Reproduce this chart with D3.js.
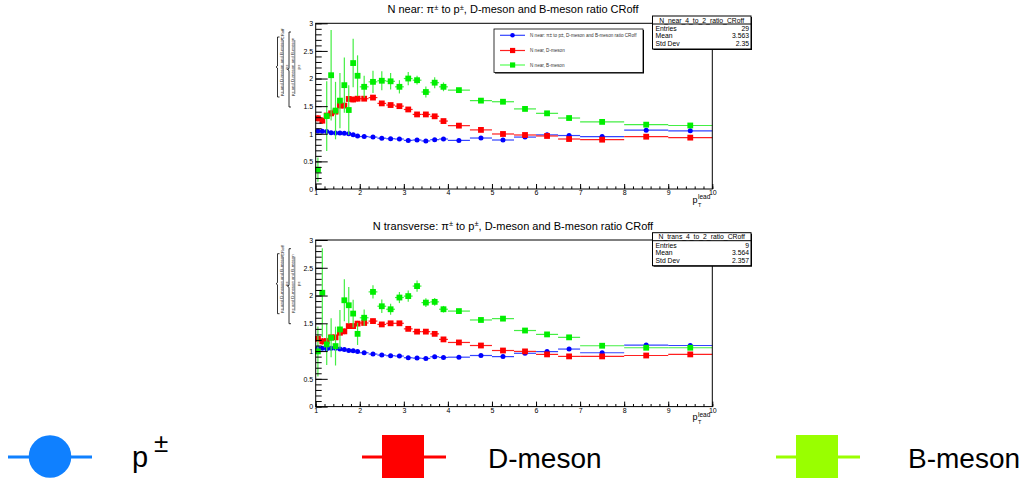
<!DOCTYPE html>
<html><head><meta charset="utf-8">
<script src="https://cdn.jsdelivr.net/npm/d3@7"></script>
<style>body{margin:0;background:#fff}svg{display:block;font-family:"Liberation Sans",Arial,sans-serif}</style>
</head><body><svg id="c" width="1027" height="480"></svg>
<script>
// ---- data ----
const binEdges = [1,1.1,1.2,1.3,1.4,1.5,1.6,1.7,1.8,1.9,2.0,2.2,2.4,2.6,2.8,3.0,3.2,3.4,3.6,3.8,4.0,4.5,5.0,5.5,6.0,6.5,7.0,8,9,10];
const xTicks = [1,2,3,4,5,6,7,8,9,10];
const yTicks = [0,0.5,1,1.5,2,2.5,3];

const nearPi    = [1.05,1.044,1.04,1.02,1.014,1.014,1.01,1.0,0.98,0.96, 0.95,0.94,0.92,0.91,0.905,0.88,0.887,0.87,0.893,0.905, 0.88,0.923,0.887,0.94,0.98,0.968,0.95,1.065,1.053];
const nearPiErr = [0.02,0.02,0.02,0.02,0.02,0.02,0.02,0.02,0.02,0.02, 0.015,0.015,0.015,0.015,0.015,0.015,0.015,0.015,0.015,0.015, 0.01,0.01,0.01,0.01,0.01,0.01,0.01,0.01,0.01];
const nearD     = [1.28,1.237,1.33,1.37,1.40,1.51,1.51,1.63,1.62,1.635, 1.635,1.655,1.55,1.52,1.50,1.44,1.35,1.35,1.316,1.23, 1.147,1.07,0.996,0.978,0.96,0.905,0.893,0.947,0.93];
const nearDErr  = [0.06,0.06,0.06,0.06,0.05,0.05,0.05,0.05,0.05,0.05, 0.04,0.04,0.04,0.04,0.04,0.04,0.03,0.03,0.03,0.03, 0.02,0.02,0.02,0.02,0.02,0.02,0.02,0.02,0.02];
const nearB     = [0.35,null,1.32,2.06,1.42,1.60,1.88,1.43,2.28,2.05, 1.85,1.94,1.96,1.95,1.85,2.0,1.97,1.756,1.925,1.85, 1.79,1.60,1.58,1.45,1.37,1.285,1.215,1.165,1.15];
const nearBErr  = [0.22,0,0.63,0.82,0.52,0.5,0.5,0.45,0.44,0.37, 0.2,0.2,0.17,0.15,0.12,0.12,0.08,0.1,0.1,0.08, 0.03,0.03,0.02,0.02,0.02,0.02,0.01,0.01,0.01];

const transPi    = [1.05,1.05,1.04,1.05,1.05,1.036,1.03,1.01,1.006,0.994, 0.97,0.946,0.928,0.916,0.91,0.88,0.873,0.867,0.897,0.885, 0.89,0.92,0.90,0.96,0.99,1.036,0.97,1.108,1.10];
const transPiErr = [0.02,0.02,0.02,0.02,0.02,0.02,0.02,0.02,0.02,0.02, 0.015,0.015,0.015,0.015,0.015,0.015,0.015,0.015,0.015,0.015, 0.01,0.01,0.01,0.01,0.01,0.01,0.01,0.01,0.01];
const transD     = [1.22,1.175,1.18,1.247,1.247,1.33,1.355,1.45,1.45,1.494, 1.506,1.54,1.48,1.5,1.5,1.40,1.35,1.35,1.31,1.21, 1.155,1.10,1.01,0.994,0.94,0.904,0.904,0.92,0.94];
const transDErr  = [0.06,0.06,0.06,0.06,0.05,0.05,0.05,0.05,0.05,0.05, 0.04,0.04,0.04,0.04,0.04,0.04,0.03,0.03,0.03,0.03, 0.02,0.02,0.02,0.02,0.02,0.02,0.02,0.02,0.02];
const transB     = [0.994,2.05,1.12,1.24,1.09,1.39,1.915,1.825,1.675,1.31, 1.60,2.066,1.807,1.753,1.964,1.99,2.17,1.873,1.886,1.753, 1.72,1.56,1.584,1.37,1.30,1.247,1.096,1.06,1.06];
const transBErr  = [0.45,0.8,0.37,0.35,0.35,0.35,0.38,0.33,0.25,0.2, 0.15,0.12,0.12,0.1,0.1,0.1,0.1,0.08,0.07,0.06, 0.02,0.02,0.02,0.02,0.02,0.02,0.01,0.01,0.01];

const panelTitles = ["N near", "N transverse"];
const statNames = ["N_near_4_to_2_ratio_CRoff", "N_trans_4_to_2_ratio_CRoff"];
const statEntries = ["29", "9"];
const statMean = ["3.563", "3.564"];
const statStd = ["2.35", "2.357"];
const legendTop = ["N near: \u03c0\u00b1 to p\u00b1, D-meson and B-meson ratio CRoff", "N near, D-meson", "N near, B-meson"];
const bottomLegend = ["p", "D-meson", "B-meson"];
const bottomLegendColors = ["#0f80ff", "#ff0000", "#99ff00"];

// ---- drawing ----
const svg = d3.select("#c");
svg.append("rect").attr("width",1027).attr("height",480).attr("fill","#fff");
const x = d3.scaleLinear().domain([1,10]).range([315.7,712.3]);
const bins = d3.range(binEdges.length-1).map(i => ({lo: binEdges[i], hi: binEdges[i+1], c: (binEdges[i]+binEdges[i+1])/2}));

const panels = [
  {top:23.3, bot:189, pi:nearPi, piE:nearPiErr, d:nearD, dE:nearDErr, b:nearB, bE:nearBErr},
  {top:240, bot:406.6, pi:transPi, piE:transPiErr, d:transD, dE:transDErr, b:transB, bE:transBErr}
];

function drawSeries(g, y, vals, errs, color, barColor, marker) {
  const data = bins.map((b,i)=>({...b, v: vals[i], e: errs[i]})).filter(d => d.v != null);
  const s = g.append("g");
  s.selectAll("line.h").data(data).join("line")
    .attr("x1", d=>x(d.lo)).attr("x2", d=>x(d.hi)).attr("y1", d=>y(d.v)).attr("y2", d=>y(d.v))
    .attr("stroke", barColor).attr("stroke-width",1.2);
  s.selectAll("line.v").data(data).join("line")
    .attr("x1", d=>x(d.c)).attr("x2", d=>x(d.c)).attr("y1", d=>y(d.v-d.e)).attr("y2", d=>y(d.v+d.e))
    .attr("stroke", barColor).attr("stroke-width",1.2);
  if (marker === "circle") {
    s.selectAll("circle").data(data).join("circle")
      .attr("cx", d=>x(d.c)).attr("cy", d=>y(d.v)).attr("r",2.5).attr("fill",color);
  } else {
    s.selectAll("rect").data(data).join("rect")
      .attr("x", d=>x(d.c)-2.9).attr("y", d=>y(d.v)-2.9).attr("width",5.8).attr("height",5.8).attr("fill",color);
  }
}

panels.forEach((p, pi) => {
  const y = d3.scaleLinear().domain([0,3]).range([p.bot, p.top]);
  const off = p.top - 23.3;
  const g = svg.append("g");

  drawSeries(g, y, p.pi, p.piE, "#0000ff", "#3344ff", "circle");
  drawSeries(g, y, p.d, p.dE, "#ff0000", "#ff2020", "square");
  drawSeries(g, y, p.b, p.bE, "#00ee00", "#44ee44", "square");

  g.append("rect").attr("x",x(1)).attr("y",p.top).attr("width",x(10)-x(1)).attr("height",p.bot-p.top)
    .attr("fill","none").attr("stroke","#000").attr("stroke-width",1);

  const xa = g.append("g").attr("transform",`translate(0,${p.bot})`)
    .call(d3.axisBottom(x).tickValues(xTicks).tickSize(-5).tickPadding(1.5).tickFormat(d=>d));
  xa.select(".domain").remove();
  xa.selectAll("text").attr("font-size",7).attr("font-family","Liberation Sans, Arial");
  const xm = g.append("g").attr("transform",`translate(0,${p.bot})`)
    .call(d3.axisBottom(x).tickValues(d3.range(1,10.01,0.2)).tickSize(-2.6).tickFormat(""));
  xm.select(".domain").remove();

  const ya = g.append("g").attr("transform",`translate(${x(1)},0)`)
    .call(d3.axisLeft(y).tickValues(yTicks).tickSize(-12).tickPadding(2.5).tickFormat(d=>String(d)));
  ya.select(".domain").remove();
  ya.selectAll("text").attr("font-size",7).attr("font-family","Liberation Sans, Arial");
  const ym = g.append("g").attr("transform",`translate(${x(1)},0)`)
    .call(d3.axisLeft(y).tickValues(d3.range(0,3.001,0.1)).tickSize(-6).tickFormat(""));
  ym.select(".domain").remove();

  // x axis title p_T^lead
  const xt = g.append("g").attr("font-size",9);
  xt.append("text").attr("x",692.5).attr("y",p.bot+13.5).text("p");
  xt.append("text").attr("x",698).attr("y",p.bot+17.5).attr("font-size",5.5).text("T");
  xt.append("text").attr("x",698).attr("y",p.bot+10).attr("font-size",6.5).text("lead");

  const t = g.append("text").attr("x",513).attr("y",13.3+off - (pi?0.3:0)).attr("text-anchor","middle").attr("font-size",11);
  t.append("tspan").text(panelTitles[pi] + ": \u03c0");
  t.append("tspan").attr("font-size",7.5).attr("dy",-3.5).text("\u00b1");
  t.append("tspan").attr("dy",3.5).text(" to p");
  t.append("tspan").attr("font-size",7.5).attr("dy",-3.5).text("\u00b1");
  t.append("tspan").attr("dy",3.5).text(", D-meson and B-meson ratio CRoff");

  // y axis title (rotated fraction)
  const yt = g.append("g").attr("font-size",4.3).attr("fill","#222");
  const braces = [[277.5, 37+off, 97+off],[289, 32+off, 107+off]];
  braces.forEach(([bx, y0, y1]) => {
    const m = (y0+y1)/2;
    yt.append("path").attr("d",`M${bx+2},${y0} L${bx},${y0} L${bx},${m-1} L${bx-1.5},${m} L${bx},${m+1} L${bx},${y1} L${bx+2},${y1}`)
      .attr("fill","none").attr("stroke","#000").attr("stroke-width",0.8);
  });
  const cols = [[281, 283.3, 286.5, 67+off],[292.5, 294.8, 298, 67+off]];
  cols.forEach(([nx, fx, dx, cy]) => {
    yt.append("text").attr("transform",`translate(${nx+1.5},${cy}) rotate(-90)`).attr("text-anchor","middle").text("p\u00b1 and D-meson and B-meson");
    yt.append("line").attr("x1",fx).attr("x2",fx).attr("y1",cy-27).attr("y2",cy+27).attr("stroke","#000").attr("stroke-width",0.5);
    yt.append("text").attr("transform",`translate(${dx+1.5},${cy}) rotate(-90)`).attr("text-anchor","middle").text("p\u00b1");
  });
  yt.append("text").attr("transform",`translate(${284},${34+off}) rotate(-90)`).attr("text-anchor","middle").text("CRoff");

  // stats box
  const sb = g.append("g").attr("font-size",6.8);
  const sy = 16 + off;
  sb.append("rect").attr("x",653.5).attr("y",sy+1).attr("width",98.5).attr("height",33).attr("fill","#000");
  sb.append("rect").attr("x",652.5).attr("y",sy).attr("width",98.5).attr("height",33).attr("fill","#fff").attr("stroke","#000").attr("stroke-width",1);
  sb.append("line").attr("x1",652.5).attr("x2",751).attr("y1",sy+8).attr("y2",sy+8).attr("stroke","#000");
  sb.append("text").attr("x",701.7).attr("y",sy+6.6).attr("text-anchor","middle").text(statNames[pi]);
  [["Entries",statEntries[pi]],["Mean",statMean[pi]],["Std Dev",statStd[pi]]].forEach(([k,v],i)=>{
    sb.append("text").attr("x",655.5).attr("y",sy+14.8+i*7.6).text(k);
    sb.append("text").attr("x",749).attr("y",sy+14.8+i*7.6).attr("text-anchor","end").text(v);
  });
});

// top legend
const lg = svg.append("g");
lg.append("rect").attr("x",495).attr("y",30).attr("width",149).attr("height",43.5).attr("fill","#000");
lg.append("rect").attr("x",494).attr("y",29).attr("width",149).attr("height",43.5).attr("fill","#fff").attr("stroke","#000").attr("stroke-width",0.8);
const lgColors = ["#0000ff","#ff0000","#00ee00"];
const lgLine = ["#3344ff","#ff2020","#55ff55"];
const lgY = [35.3, 50.5, 65];
legendTop.forEach((txt,i)=>{
  lg.append("line").attr("x1",500).attr("x2",525).attr("y1",lgY[i]).attr("y2",lgY[i]).attr("stroke",lgLine[i]).attr("stroke-width",1.2);
  if (i===0) lg.append("circle").attr("cx",512.5).attr("cy",lgY[i]).attr("r",2.3).attr("fill",lgColors[i]);
  else lg.append("rect").attr("x",510).attr("y",lgY[i]-2.6).attr("width",5.2).attr("height",5.2).attr("fill",lgColors[i]);
  lg.append("text").attr("x",530).attr("y",lgY[i]+1.6).attr("font-size",4.6).attr("fill","#333").text(txt);
});

// bottom legend
const bl = svg.append("g");
const blX = [8, 362, 776];
bottomLegend.forEach((lab,i)=>{
  const x0 = blX[i];
  bl.append("line").attr("x1",x0).attr("x2",x0+84).attr("y1",457).attr("y2",457).attr("stroke",bottomLegendColors[i]).attr("stroke-width",3);
  if (i===0) bl.append("circle").attr("cx",x0+42).attr("cy",456.5).attr("r",21.3).attr("fill",bottomLegendColors[i]);
  else bl.append("rect").attr("x",x0+20).attr("y",435).attr("width",42).attr("height",43).attr("fill",bottomLegendColors[i]);
});
bl.append("text").attr("x",132).attr("y",467).attr("font-size",29).text(bottomLegend[0]);
bl.append("text").attr("x",154).attr("y",452).attr("font-size",26).text("\u00b1");
bl.append("text").attr("x",488).attr("y",468).attr("font-size",28).text(bottomLegend[1]);
bl.append("text").attr("x",908).attr("y",468).attr("font-size",28).text(bottomLegend[2]);
</script></body></html>
